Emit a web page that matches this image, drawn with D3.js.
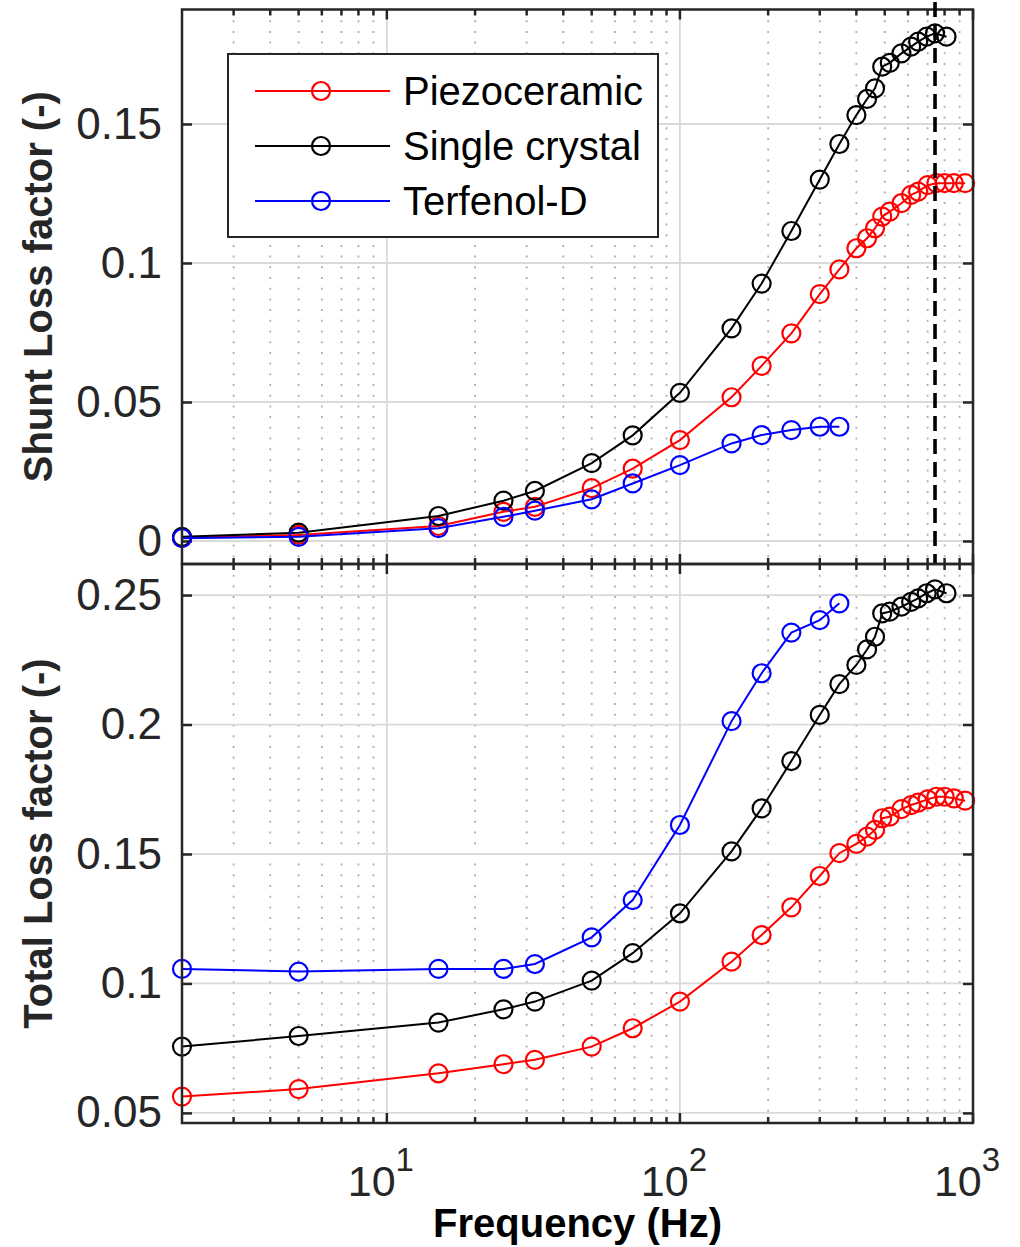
<!DOCTYPE html>
<meta charset="utf-8">
<head>
    <style>
        body {margin: 0; background: #fff;}
        svg {font-family: "Liberation Sans", Arial, sans-serif;}
    </style>
    <script src="https://d3js.org/d3.v7.min.js"></script>
</head>
<body>
<script>

    // frequencies (Hz) for each material
    var freqPiezo   = [2, 5, 15, 25, 32, 50, 69, 100, 150, 190, 240, 300, 350, 400, 435, 463, 490, 520, 570, 615, 650, 700, 750, 800, 860, 940];
    var freqCrystal = [2, 5, 15, 25, 32, 50, 69, 100, 150, 190, 240, 300, 350, 400, 435, 463, 490, 520, 570, 615, 650, 695, 742, 812];
    var freqTerf    = [2, 5, 15, 25, 32, 50, 69, 100, 150, 190, 240, 300, 350];

    // shunt loss factor (top panel)
    var shuntPiezo   = [0.0012, 0.0022, 0.0054, 0.0105, 0.0123, 0.019, 0.026, 0.0363, 0.0517, 0.063, 0.0747, 0.0888, 0.0977, 0.1053, 0.1089, 0.1125, 0.1167, 0.1185, 0.1215, 0.1245, 0.1257, 0.128, 0.1287, 0.1287, 0.1287, 0.1287];
    var shuntCrystal = [0.0015, 0.003, 0.009, 0.0145, 0.018, 0.028, 0.038, 0.0533, 0.0765, 0.0926, 0.1115, 0.130, 0.1428, 0.1532, 0.159, 0.1628, 0.1706, 0.172, 0.1754, 0.1778, 0.1796, 0.1814, 0.1826, 0.1814];
    var shuntTerf    = [0.001, 0.0015, 0.0046, 0.0087, 0.0109, 0.015, 0.0207, 0.0273, 0.0351, 0.0381, 0.0399, 0.0411, 0.0411];

    // total loss factor (bottom panel)
    var totalPiezo   = [0.0563, 0.0592, 0.0653, 0.0688, 0.0705, 0.0756, 0.0827, 0.093, 0.1084, 0.1187, 0.1294, 0.1415, 0.1503, 0.1539, 0.1567, 0.1593, 0.1638, 0.1644, 0.1673, 0.1689, 0.1698, 0.1711, 0.1721, 0.1721, 0.1715, 0.1706];
    var totalCrystal = [0.0756, 0.0797, 0.0849, 0.0900, 0.093, 0.1011, 0.1117, 0.1271, 0.151, 0.1676, 0.1859, 0.2037, 0.2156, 0.223, 0.229, 0.2339, 0.2429, 0.2436, 0.2455, 0.2474, 0.2487, 0.2507, 0.2522, 0.2507];
    var totalTerf    = [0.1056, 0.1046, 0.1056, 0.1056, 0.1075, 0.1178, 0.1322, 0.1612, 0.2013, 0.2198, 0.2355, 0.2403, 0.2468];

    var resonanceHz = 742;

    var seriesNames = ["Piezoceramic", "Single crystal", "Terfenol-D"];
    var seriesColors = ["#ff0000", "#000000", "#0000ff"];

    var xMajor = [10, 100, 1000];
    var xMinor = [3, 4, 5, 6, 7, 8, 9, 20, 30, 40, 50, 60, 70, 80, 90, 200, 300, 400, 500, 600, 700, 800, 900];
    var yTicksShunt = [0, 0.05, 0.1, 0.15];
    var yTicksTotal = [0.05, 0.1, 0.15, 0.2, 0.25];

    var W = 1020, H = 1247;
    var left = 182, right = 973;
    var axisColor = "#262626";

    var svg = d3.select("body").append("svg")
        .attr("width", W)
        .attr("height", H);

    var x = d3.scaleLog()
        .domain([2, 1000])
        .range([left, right]);

    var yShunt = d3.scaleLinear()
        .domain([-0.00827, 0.19118])
        .range([564, 9.5]);

    var yTotal = d3.scaleLinear()
        .domain([0.0461, 0.262])
        .range([1123, 564]);

    function drawPanel(y, yTicks, series, label, showX) {
        var top = y.range()[1], bottom = y.range()[0];
        var g = svg.append("g");

        // grid
        g.selectAll(".minor").data(xMinor).enter().append("line")
            .attr("x1", d => x(d)).attr("x2", d => x(d))
            .attr("y1", top).attr("y2", bottom)
            .attr("stroke", "#aeaeae").attr("stroke-width", 1.8)
            .attr("stroke-dasharray", "2,8.7");
        g.selectAll(".majx").data(xMajor.slice(0, 2)).enter().append("line")
            .attr("x1", d => x(d)).attr("x2", d => x(d))
            .attr("y1", top).attr("y2", bottom)
            .attr("stroke", "#dadada").attr("stroke-width", 1.8);
        g.selectAll(".majy").data(yTicks).enter().append("line")
            .attr("x1", left).attr("x2", right)
            .attr("y1", d => y(d)).attr("y2", d => y(d))
            .attr("stroke", "#dadada").attr("stroke-width", 1.8);

        // y axes (left with labels, right without)
        var yAxis = d3.axisLeft(y).tickValues(yTicks).tickSize(-10).tickPadding(20)
            .tickFormat(d => String(d));
        var ga = g.append("g").attr("transform", "translate(" + left + ",0)").call(yAxis);
        ga.select(".domain").remove();
        ga.selectAll("line").attr("stroke", axisColor).attr("stroke-width", 2.5);
        ga.selectAll("text").attr("font-size", 44).attr("fill", axisColor);

        var gr = g.append("g").attr("transform", "translate(" + right + ",0)")
            .call(d3.axisRight(y).tickValues(yTicks).tickSize(-10).tickFormat(""));
        gr.select(".domain").remove();
        gr.selectAll("line").attr("stroke", axisColor).attr("stroke-width", 2.5);

        // x ticks top & bottom, inward
        [top, bottom].forEach(function(yy) {
            var dir = yy == top ? 1 : -1;
            g.selectAll(null).data(xMinor).enter().append("line")
                .attr("x1", d => x(d)).attr("x2", d => x(d))
                .attr("y1", yy).attr("y2", yy + dir * 6)
                .attr("stroke", axisColor).attr("stroke-width", 2.5);
            g.selectAll(null).data(xMajor).enter().append("line")
                .attr("x1", d => x(d)).attr("x2", d => x(d))
                .attr("y1", yy).attr("y2", yy + dir * 10)
                .attr("stroke", axisColor).attr("stroke-width", 2.5);
        });

        if (showX) {
            var lab = g.selectAll(".xl").data(xMajor).enter().append("text")
                .attr("x", d => x(d) - 6).attr("y", 1196)
                .attr("text-anchor", "middle")
                .attr("font-size", 43).attr("fill", axisColor);
            lab.append("tspan").text("10");
            lab.append("tspan").attr("dy", -25).attr("font-size", 33)
                .text(d => Math.round(Math.log10(d)));
        }

        // series: red, black, blue in drawing order
        series.forEach(function(s, k) {
            var pts = s.f.map((f, i) => [f, s.v[i]]);
            var line = d3.line().x(d => x(d[0])).y(d => y(d[1]));
            g.append("path").datum(pts)
                .attr("d", line)
                .attr("fill", "none")
                .attr("stroke", seriesColors[k])
                .attr("stroke-width", 2);
            g.selectAll(null).data(pts).enter().append("circle")
                .attr("cx", d => x(d[0])).attr("cy", d => y(d[1]))
                .attr("r", 9)
                .attr("fill", "none")
                .attr("stroke", seriesColors[k])
                .attr("stroke-width", 2.2);
        });

        // box
        g.append("rect")
            .attr("x", left).attr("y", top)
            .attr("width", right - left).attr("height", bottom - top)
            .attr("fill", "none").attr("stroke", axisColor).attr("stroke-width", 2.5);

        // y label
        g.append("text")
            .attr("transform", "translate(52," + ((top + bottom) / 2) + ") rotate(-90)")
            .attr("text-anchor", "middle")
            .attr("font-size", 40).attr("font-weight", "bold")
            .attr("fill", axisColor)
            .text(label);

        return g;
    }

    var topPanel = drawPanel(yShunt, yTicksShunt, [
        {f: freqPiezo, v: shuntPiezo},
        {f: freqCrystal, v: shuntCrystal},
        {f: freqTerf, v: shuntTerf}
    ], "Shunt Loss factor (-)", false);

    // resonance marker
    topPanel.append("line")
        .attr("x1", x(resonanceHz)).attr("x2", x(resonanceHz))
        .attr("y1", 2).attr("y2", 564)
        .attr("stroke", "#000").attr("stroke-width", 3.6)
        .attr("stroke-dasharray", "15,8");

    drawPanel(yTotal, yTicksTotal, [
        {f: freqPiezo, v: totalPiezo},
        {f: freqCrystal, v: totalCrystal},
        {f: freqTerf, v: totalTerf}
    ], "Total Loss factor (-)", true);

    svg.append("text")
        .attr("x", (left + right) / 2).attr("y", 1237)
        .attr("text-anchor", "middle")
        .attr("font-size", 40).attr("font-weight", "bold")
        .attr("fill", "#000")
        .text("Frequency (Hz)");

    // legend
    var leg = svg.append("g");
    leg.append("rect")
        .attr("x", 228).attr("y", 54)
        .attr("width", 430).attr("height", 183)
        .attr("fill", "#fff").attr("stroke", axisColor).attr("stroke-width", 2);
    seriesNames.forEach(function(name, k) {
        var yy = 91 + k * 55;
        leg.append("line")
            .attr("x1", 255).attr("x2", 390).attr("y1", yy).attr("y2", yy)
            .attr("stroke", seriesColors[k]).attr("stroke-width", 2);
        leg.append("circle")
            .attr("cx", 321).attr("cy", yy).attr("r", 9)
            .attr("fill", "none").attr("stroke", seriesColors[k]).attr("stroke-width", 2.2);
        leg.append("text")
            .attr("x", 403).attr("y", yy + 14)
            .attr("font-size", 40).attr("fill", "#000")
            .text(name);
    });

</script>
</body>
